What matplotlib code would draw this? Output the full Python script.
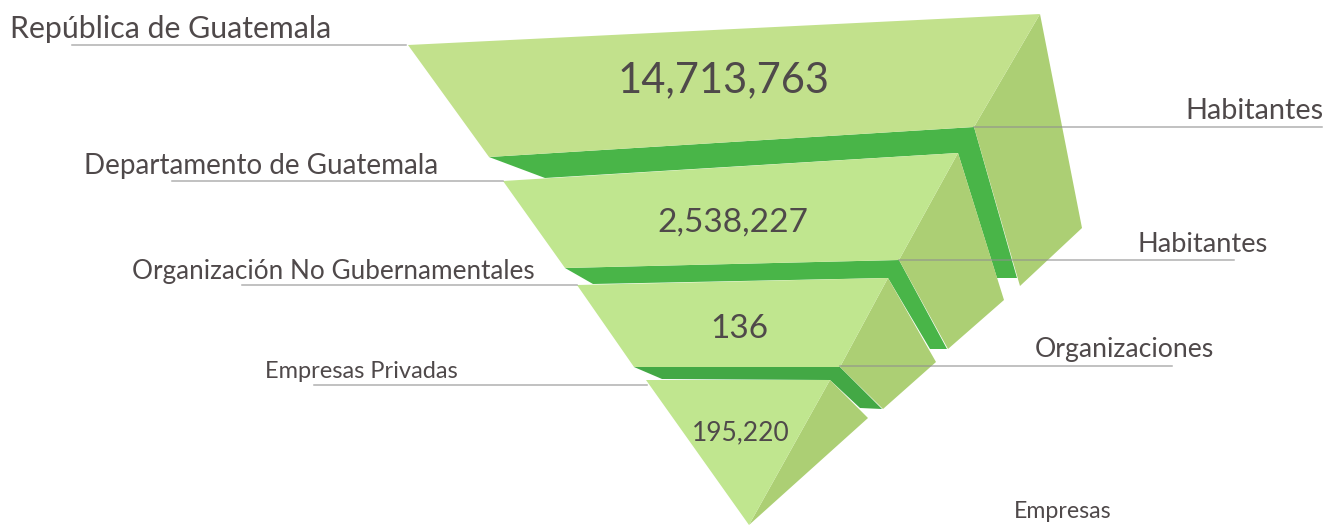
import matplotlib
matplotlib.use('Agg')
import matplotlib.pyplot as plt
from matplotlib.patches import Polygon

# chart data
levels = ['República de Guatemala', 'Departamento de Guatemala',
          'Organización No Gubernamentales', 'Empresas Privadas']
values = [14713763, 2538227, 136, 195220]
units = ['Habitantes', 'Habitantes', 'Organizaciones', 'Empresas']

# funnel shape is not to scale with the values, so outlines are traced in pixels
fronts = [
    [(408, 45), (1040, 14), (974, 127), (489, 157)],
    [(503, 181), (958, 153), (899, 260), (565, 268)],
    [(577, 285), (888, 278), (840, 367), (634, 367)],
    [(646, 380), (830, 380), (749, 525)],
]
sides = [
    [(1040, 14), (1082, 228), (1020, 286), (974, 127)],
    [(958, 153), (1004, 300), (948, 349), (899, 260)],
    [(888, 278), (936, 362), (883, 409), (840, 367)],
    [(830, 380), (868, 418), (749, 525)],
]
bands = [
    [(489, 157), (974, 127), (1017, 278), (997, 278), (958, 153), (545, 178)],
    [(565, 268), (899, 260), (947, 349), (930, 349), (888, 278), (593, 284)],
    [(634, 367), (840, 367), (882, 409), (860, 408), (830, 380), (662, 379)],
]
front_colors = ['#c2e18c', '#c0e68f', '#c0e68f', '#c0e68f']
band_colors = ['#49b548', '#49b548', '#43a845']
side_color = '#aace6f'
line_color = '#8f8f8f'
text_color = '#4f494a'

value_pos = [(724, 80), (733, 223), (739, 329), (741, 433)]
value_sizes = [30, 24, 24, 19]
left_lines = [(72, 406, 45), (172, 503, 181), (242, 577, 285), (314, 647, 385)]
right_lines = [(974, 1322, 127), (899, 1234, 260), (840, 1172, 366)]
left_text = [(10, 29, 21.8), (84, 166, 20), (132, 272, 18.8), (265, 372, 17)]
right_text = [(1323, 111, 20.8), (1268, 245, 19.6), (1214, 349, 19.2), (1111, 511, 16.7)]

plt.rcParams['font.family'] = ['Lato', 'DejaVu Sans']

fig = plt.figure(figsize=(13.38, 5.25), dpi=100)
ax = fig.add_axes([0, 0, 1, 1])
ax.set_xlim(0, 1338)
ax.set_ylim(525, 0)
ax.axis('off')

for pts, c in zip(bands, band_colors):
    ax.add_patch(Polygon(pts, closed=True, fc=c, ec='none', zorder=2))
for pts in sides:
    ax.add_patch(Polygon(pts, closed=True, fc=side_color, ec='none', alpha=0.97, zorder=3))
for pts, c in zip(fronts, front_colors):
    ax.add_patch(Polygon(pts, closed=True, fc=c, ec='none', zorder=4))

for x0, x1, y in left_lines + right_lines:
    ax.plot([x0, x1], [y, y], color=line_color, lw=1.1, alpha=0.7, zorder=5)

for val, (x, y), size in zip(values, value_pos, value_sizes):
    ax.text(x, y, f'{val:,}', fontsize=size, color=text_color, ha='center', va='center', zorder=6)

for name, (x, y, size) in zip(levels, left_text):
    ax.text(x, y, name, fontsize=size, color=text_color, ha='left', va='center', zorder=6)
for name, (x, y, size) in zip(units, right_text):
    ax.text(x, y, name, fontsize=size, color=text_color, ha='right', va='center', zorder=6)

fig.savefig('out.png', dpi=100)
